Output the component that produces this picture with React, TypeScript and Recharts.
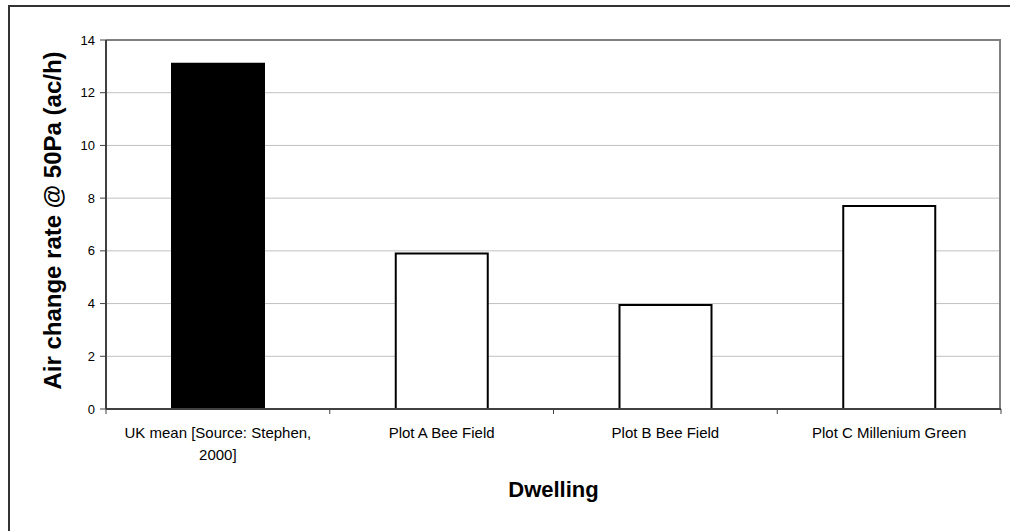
import React from 'react';
import { BarChart, Bar, XAxis, YAxis, CartesianGrid, Cell, Text, ReferenceLine } from 'recharts';

const categories = [
  'UK mean [Source: Stephen, 2000]',
  'Plot A Bee Field',
  'Plot B Bee Field',
  'Plot C Millenium Green',
];
const values = [13.1, 5.9, 3.95, 7.7];
const fills = ['#000000', '#ffffff', '#ffffff', '#ffffff'];
const yTicks = [0, 2, 4, 6, 8, 10, 12, 14];
const yLabel = 'Air change rate @ 50Pa (ac/h)';
const xLabel = 'Dwelling';

const data = categories.map((c, i) => ({ name: c, value: values[i] }));

const W = 1010;
const H = 531;
const M = { top: 40, right: 9, bottom: 62, left: 46 };
const YW = 60;
const XH = 60;
const PLOT_LEFT = M.left + YW;
const PLOT_RIGHT = W - M.right;
const PLOT_BOTTOM = H - M.bottom - XH;
const BW = (PLOT_RIGHT - PLOT_LEFT) / categories.length;
const FONT = 'Arial, "Liberation Sans", sans-serif';

const XTick = (props: any) => {
  const { x, payload, index } = props;
  return (
    <g>
      <line x1={x - BW / 2} x2={x - BW / 2} y1={PLOT_BOTTOM} y2={PLOT_BOTTOM + 5} stroke="#404040" strokeWidth={1} />
      {index === categories.length - 1 && (
        <line x1={x + BW / 2} x2={x + BW / 2} y1={PLOT_BOTTOM} y2={PLOT_BOTTOM + 5} stroke="#404040" strokeWidth={1} />
      )}
      <Text
        x={x}
        y={PLOT_BOTTOM + 18}
        width={210}
        lineHeight={22}
        textAnchor="middle"
        verticalAnchor="start"
        fontSize={15}
        fontFamily={FONT}
        fill="#000"
      >
        {payload.value}
      </Text>
    </g>
  );
};

const YLabelContent = (props: any) => {
  const vb = props.viewBox || {};
  const cx = 52;
  const cy = vb.y + vb.height / 2 - 4;
  return (
    <text
      x={cx}
      y={cy}
      transform={`rotate(-90, ${cx}, ${cy})`}
      textAnchor="middle"
      dominantBaseline="central"
      fontSize={24}
      fontWeight="bold"
      fontFamily={FONT}
      fill="#000"
    >
      {yLabel}
    </text>
  );
};

const XLabelContent = (props: any) => {
  const vb = props.viewBox || {};
  const cx = vb.x + vb.width / 2;
  const cy = PLOT_BOTTOM + 80;
  return (
    <text
      x={cx}
      y={cy}
      textAnchor="middle"
      dominantBaseline="central"
      fontSize={22}
      fontWeight="bold"
      fontFamily={FONT}
      fill="#000"
    >
      {xLabel}
    </text>
  );
};

export default function App() {
  return (
    <div style={{ position: 'absolute', left: 0, top: 0, width: W, height: H, background: '#fff' }}>
      <div
        style={{
          position: 'absolute',
          left: 8,
          top: 5,
          width: W - 8,
          height: H - 5,
          borderLeft: '2px solid #333',
          borderTop: '2px solid #333',
          boxSizing: 'border-box',
        }}
      />
      <div style={{ position: 'absolute', left: 0, top: 0 }}>
        <BarChart width={W} height={H} data={data} margin={M} barCategoryGap={0}>
          <CartesianGrid horizontal vertical={false} stroke="#c0c0c0" strokeWidth={1} />
          <CartesianGrid
            horizontal={false}
            vertical
            verticalPoints={[PLOT_RIGHT - 1]}
            stroke="#808080"
            strokeWidth={2}
          />
          <XAxis
            dataKey="name"
            height={XH}
            interval={0}
            tickLine={false}
            axisLine={{ stroke: '#404040', strokeWidth: 2 }}
            tick={<XTick />}
            label={<XLabelContent />}
          />
          <YAxis
            width={YW}
            domain={[0, 14]}
            ticks={yTicks}
            interval={0}
            tickSize={6}
            tickMargin={5}
            tickLine={{ stroke: '#404040' }}
            axisLine={{ stroke: '#404040', strokeWidth: 2 }}
            tick={{ fontSize: 13, fill: '#000', fontFamily: FONT }}
            label={<YLabelContent />}
          />
          <ReferenceLine y={14} stroke="#808080" strokeWidth={2} />
          <Bar dataKey="value" barSize={92} stroke="#000" strokeWidth={2} isAnimationActive={false}>
            {data.map((d, i) => (
              <Cell key={d.name} fill={fills[i]} />
            ))}
          </Bar>
        </BarChart>
      </div>
    </div>
  );
}
